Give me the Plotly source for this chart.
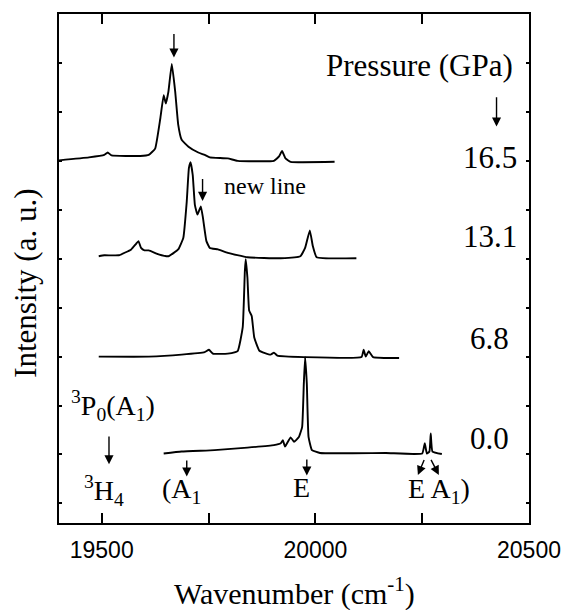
import plotly.graph_objects as go

# ---- data (wavenumber cm^-1, stacked intensity in axis units) ----
x_165 = [19400, 19470, 19506, 19514, 19523, 19590, 19610, 19625, 19637, 19645, 19650,
         19656, 19664, 19672, 19679, 19687, 19703, 19726, 19741, 19753, 19795, 19818,
         19903, 19915, 19922, 19930, 19942, 20045]
y_165 = [7.01, 7.07, 7.12, 7.17, 7.11, 7.10, 7.12, 7.25, 7.86, 8.34, 8.17,
         8.41, 8.98, 8.41, 7.74, 7.43, 7.29, 7.17, 7.12, 7.07, 7.05, 7.00,
         7.00, 7.09, 7.20, 7.05, 6.98, 6.98]

x_131 = [19493, 19506, 19540, 19569, 19580, 19586, 19592, 19600, 19610, 19633, 19656,
         19679, 19691, 19699, 19704, 19708, 19713, 19718, 19724, 19732, 19737, 19745,
         19753, 19772, 19795, 19841, 19919, 19965, 19976, 19987, 19994, 20003, 20096]
y_131 = [5.05, 5.07, 5.07, 5.19, 5.30, 5.36, 5.22, 5.17, 5.17, 5.09, 5.05,
         5.19, 5.43, 6.17, 6.85, 6.97, 6.71, 6.10, 5.90, 6.07, 5.83, 5.36,
         5.22, 5.19, 5.12, 5.03, 5.01, 5.05, 5.22, 5.58, 5.26, 5.03, 5.01]

x_68 = [19493, 19610, 19687, 19741, 19751, 19760, 19795, 19818, 19830, 19835, 19837,
        19841, 19845, 19851, 19857, 19869, 19895, 19903, 19911, 19973, 20108, 20113,
        20118, 20125, 20135, 20196]
y_68 = [3.00, 3.00, 3.04, 3.09, 3.14, 3.06, 3.06, 3.11, 3.60, 4.75, 4.99,
        4.61, 3.94, 3.83, 3.39, 3.12, 3.04, 3.08, 3.02, 2.99, 2.99, 3.14,
        3.00, 3.11, 2.99, 2.97]

x_00 = [19645, 19687, 19764, 19841, 19903, 19919, 19924, 19929, 19942, 19950, 19961,
        19969, 19973, 19976, 19980, 19984, 19992, 20011, 20165, 20250, 20256, 20261,
        20267, 20270, 20274, 20296]
y_00 = [1.02, 1.06, 1.09, 1.14, 1.19, 1.23, 1.29, 1.16, 1.35, 1.26, 1.35,
        1.56, 2.45, 2.99, 2.45, 1.36, 1.09, 1.03, 1.03, 1.02, 1.23, 1.02,
        1.06, 1.43, 1.06, 1.01]

pressures = ["16.5", "13.1", "6.8", "0.0"]
label_y = [7.07, 5.46, 3.36, 1.32]

# arrows: tail x, tail y, tip x, tip y
arrow_tail_x = [20424, 19669, 19736, 19517, 19699, 19980, 20256, 20269]
arrow_tail_y = [8.33, 9.62, 6.66, 1.40, 0.91, 0.93, 0.92, 0.92]
arrow_tip_x = [20424, 19669, 19736, 19517, 19699, 19980, 20240, 20289]
arrow_tip_y = [7.70, 9.11, 6.18, 0.80, 0.55, 0.57, 0.58, 0.58]

SERIF = "Liberation Serif, Times New Roman, serif"
SANS = "Liberation Sans, Arial, sans-serif"

fig = go.Figure()
for xs, ys in [(x_165, y_165), (x_131, y_131), (x_68, y_68), (x_00, y_00)]:
    fig.add_trace(go.Scatter(x=xs, y=ys, mode="lines",
                             line=dict(color="black", width=1.9, shape="spline", smoothing=0.35),
                             showlegend=False, hoverinfo="skip"))

ann = []
for sx, sy, tx, ty in zip(arrow_tail_x, arrow_tail_y, arrow_tip_x, arrow_tip_y):
    ann.append(dict(x=tx, y=ty, ax=sx, ay=sy, xref="x", yref="y", axref="x", ayref="y",
                    text="", showarrow=True, arrowhead=2, arrowsize=1.3, arrowwidth=1.4,
                    arrowcolor="black"))

ann.append(dict(x=20244, y=8.94, text="Pressure (GPa)", showarrow=False,
                font=dict(family=SERIF, size=31, color="black")))
for p, yy in zip(pressures, label_y):
    ann.append(dict(x=20408, y=yy, text=p, showarrow=False,
                    font=dict(family=SERIF, size=31, color="black")))
ann.append(dict(x=19881, y=6.49, text="new line", showarrow=False,
                font=dict(family=SERIF, size=24, color="black")))
ann.append(dict(x=19527, y=2.0, text="<sup>3</sup>P<sub>0</sub>(A<sub>1</sub>)", showarrow=False,
                font=dict(family=SERIF, size=28, color="black")))
ann.append(dict(x=19506, y=0.26, text="<sup>3</sup>H<sub>4</sub>", showarrow=False,
                font=dict(family=SERIF, size=28, color="black")))
ann.append(dict(x=19687, y=0.26, text="(A<sub>1</sub>", showarrow=False,
                font=dict(family=SERIF, size=28, color="black")))
ann.append(dict(x=19967, y=0.32, text="E", showarrow=False,
                font=dict(family=SERIF, size=28, color="black")))
ann.append(dict(x=20290, y=0.26, text="E A<sub>1</sub>)", showarrow=False,
                font=dict(family=SERIF, size=28, color="black")))
# axis titles
ann.append(dict(xref="paper", yref="paper", x=-0.07, y=0.47, xanchor="center",
                yanchor="middle", textangle=-90,
                text="Intensity (a. u.)", showarrow=False,
                font=dict(family=SERIF, size=31, color="black")))
ann.append(dict(xref="paper", yref="paper", x=0.5, y=-0.176, yanchor="bottom",
                text="Wavenumber (cm<sup>-1</sup>)", showarrow=False,
                font=dict(family=SERIF, size=30, color="black")))

fig.update_layout(
    width=573, height=610,
    margin=dict(l=59, r=38, t=12, b=87),
    paper_bgcolor="white", plot_bgcolor="white",
    annotations=ann,
    xaxis=dict(range=[19400, 20500], tick0=19500, dtick=500, tickformat="d",
               ticks="inside", ticklen=10, tickwidth=1.5, tickcolor="black",
               minor=dict(dtick=250, tick0=19500, ticks="inside", ticklen=10,
                          tickwidth=1.5, tickcolor="black", showgrid=False),
               ticklabelstandoff=5,
               showline=True, linecolor="black", linewidth=2, mirror="ticks",
               showgrid=False, zeroline=False,
               tickfont=dict(family=SANS, size=23, color="black")),
    yaxis=dict(range=[-0.4, 10], dtick=1, tick0=0,
               ticks="inside", ticklen=3, tickwidth=1.5, tickcolor="black",
               showticklabels=False,
               showline=True, linecolor="black", linewidth=2, mirror="ticks",
               showgrid=False, zeroline=False),
)

fig.write_html("out.html")
